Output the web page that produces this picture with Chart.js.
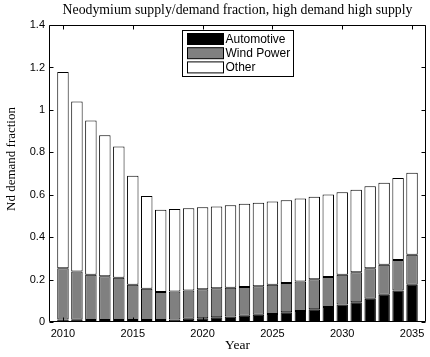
<!DOCTYPE html>
<html>
<head>
<meta charset="utf-8">
<script src="https://cdn.jsdelivr.net/npm/chart.js@4.4.1/dist/chart.umd.min.js"></script>
<style>
  html, body { margin: 0; padding: 0; background: #fff; }
</style>
</head>
<body>
<canvas id="chart" width="430" height="357"></canvas>
<script>
// ── Data ──────────────────────────────────────────────────────────────
const years = [2010, 2011, 2012, 2013, 2014, 2015, 2016, 2017, 2018, 2019, 2020, 2021, 2022,
               2023, 2024, 2025, 2026, 2027, 2028, 2029, 2030, 2031, 2032, 2033, 2034, 2035];
const automotive = [0.012, 0.011, 0.010, 0.010, 0.010, 0.010, 0.010, 0.010, 0.012, 0.015, 0.018, 0.022, 0.026,
                    0.029, 0.034, 0.038, 0.046, 0.052, 0.060, 0.071, 0.082, 0.093, 0.110, 0.129, 0.149, 0.176];
const windPower  = [0.242, 0.227, 0.213, 0.206, 0.199, 0.166, 0.147, 0.131, 0.132, 0.133, 0.136, 0.137, 0.136,
                    0.136, 0.135, 0.138, 0.138, 0.139, 0.142, 0.141, 0.141, 0.142, 0.143, 0.141, 0.143, 0.141];
const other      = [0.925, 0.802, 0.727, 0.665, 0.619, 0.513, 0.437, 0.388, 0.389, 0.388, 0.387, 0.385, 0.388,
                    0.392, 0.393, 0.392, 0.390, 0.391, 0.388, 0.389, 0.389, 0.389, 0.387, 0.387, 0.387, 0.387];
const xTicks = [2010, 2015, 2020, 2025, 2030, 2035];
const yTicks = [0, 0.2, 0.4, 0.6, 0.8, 1, 1.2, 1.4];
const seriesNames = ['Automotive', 'Wind Power', 'Other'];
const yLabel = 'Nd demand fraction';

const SANS  = '"Liberation Sans", Arial, sans-serif';
const SERIF = '"Liberation Serif", "Times New Roman", serif';

const toPoints = vals => vals.map((v, i) => ({ x: years[i], y: v }));

// ── Frame: box + inward ticks on all four sides, MATLAB style ─────────
const framePlugin = {
    id: 'frame',
    afterDatasetsDraw(chart) {
        const { ctx, chartArea: a, scales: { x, y } } = chart;
        const L = Math.round(a.left) + 0.5, R = Math.round(a.right) - 0.5;
        const T = Math.round(a.top) + 0.5,  B = Math.round(a.bottom) - 0.5;
        const len = 4;
        ctx.save();
        ctx.strokeStyle = '#000';
        ctx.lineWidth = 1;
        ctx.beginPath();
        ctx.rect(L, T, R - L, B - T);
        xTicks.forEach(v => {
            const px = Math.round(x.getPixelForValue(v)) + 0.5;
            ctx.moveTo(px, B); ctx.lineTo(px, B - len);
            ctx.moveTo(px, T); ctx.lineTo(px, T + len);
        });
        yTicks.forEach(v => {
            const py = Math.round(y.getPixelForValue(v)) + 0.5;
            ctx.moveTo(L, py); ctx.lineTo(L + len, py);
            ctx.moveTo(R, py); ctx.lineTo(R - len, py);
        });
        ctx.stroke();

        // y label sits a bit above the axis centre in the reference
        ctx.fillStyle = '#000';
        ctx.font = `13px ${SERIF}`;
        ctx.textAlign = 'center';
        ctx.textBaseline = 'middle';
        ctx.translate(12, 159);
        ctx.rotate(-Math.PI / 2);
        ctx.fillText(yLabel, 0, 0);
        ctx.restore();
    }
};

// ── Legend box drawn inside the plot area ─────────────────────────────
const boxLegend = {
    id: 'boxLegend',
    afterDraw(chart) {
        const { ctx, chartArea: a } = chart;
        const bx = Math.round(a.left) + 133.5, by = Math.round(a.top) + 5.5;
        const bw = 111, bh = 46;
        ctx.save();
        ctx.fillStyle = '#fff';
        ctx.fillRect(bx, by, bw, bh);
        ctx.strokeStyle = '#000';
        ctx.lineWidth = 1;
        ctx.strokeRect(bx, by, bw, bh);
        ctx.font = `12px ${SANS}`;
        ctx.textBaseline = 'middle';
        chart.data.datasets.forEach((ds, i) => {
            const sy = by + 3 + i * 14.2;
            ctx.fillStyle = ds.backgroundColor;
            ctx.fillRect(bx + 5, sy, 36, 11);
            ctx.strokeRect(bx + 5, sy, 36, 11);
            ctx.fillStyle = '#000';
            ctx.fillText(ds.label, bx + 43, sy + 6);
        });
        ctx.restore();
    }
};

const barStyle = {
    borderColor: '#000',
    borderWidth: 1,
    borderSkipped: false,
    barPercentage: 0.82,
    categoryPercentage: 1,
};

new Chart(document.getElementById('chart'), {
    type: 'bar',
    data: {
        datasets: [
            { label: seriesNames[0], data: toPoints(automotive), backgroundColor: '#000000', ...barStyle },
            { label: seriesNames[1], data: toPoints(windPower),  backgroundColor: '#808080', ...barStyle },
            { label: seriesNames[2], data: toPoints(other),      backgroundColor: '#ffffff', ...barStyle },
        ],
    },
    options: {
        responsive: false,
        animation: false,
        devicePixelRatio: 1,
        layout: { padding: { left: 0, right: 4, top: 0, bottom: 0 } },
        plugins: {
            legend: { display: false },
            tooltip: { enabled: false },
            title: {
                display: true,
                fullSize: false,
                text: 'Neodymium supply/demand fraction, high demand high supply',
                color: '#000',
                font: { family: SERIF, size: 13.8, weight: 'normal', lineHeight: 1.2 },
                padding: { top: 2.5, bottom: 6 },
            },
        },
        scales: {
            x: {
                type: 'linear',
                stacked: true,
                offset: false,
                min: 2009,
                max: 2036,
                grid: { display: false, drawTicks: false },
                border: { display: false },
                afterBuildTicks: axis => { axis.ticks = xTicks.map(v => ({ value: v })); },
                afterFit: axis => { axis.height = 35; },
                ticks: {
                    color: '#000',
                    padding: 5,
                    maxRotation: 0,
                    font: { family: SANS, size: 11 },
                    callback: v => String(v),
                },
                title: {
                    display: true,
                    text: 'Year',
                    color: '#000',
                    font: { family: SERIF, size: 13.5, lineHeight: 1.2 },
                    padding: { top: 0, bottom: 3 },
                },
            },
            y: {
                stacked: true,
                min: 0,
                max: 1.4,
                grid: { display: false, drawTicks: false },
                border: { display: false },
                afterBuildTicks: axis => { axis.ticks = yTicks.map(v => ({ value: v })); },
                afterFit: axis => { axis.width = 49; },
                ticks: {
                    color: '#000',
                    padding: 4,
                    font: { family: SANS, size: 11 },
                    callback: v => String(+v.toFixed(1)),
                },
            },
        },
    },
    plugins: [framePlugin, boxLegend],
});
</script>
</body>
</html>
